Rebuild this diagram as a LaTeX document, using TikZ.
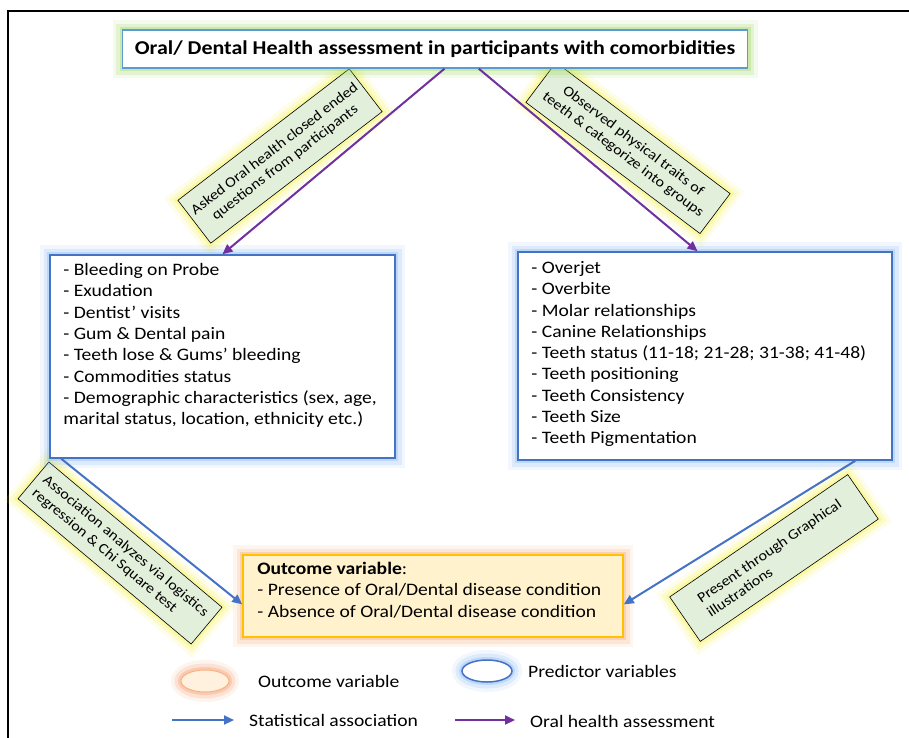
\documentclass[tikz,border=0pt]{standalone}
\usepackage{fontspec}
\setmainfont{Carlito}[FakeStretch=1.12]
\usetikzlibrary{arrows.meta,calc,positioning,shapes.geometric}

\definecolor{boxblue}{RGB}{68,114,196}
\definecolor{titleblue}{RGB}{91,155,213}
\definecolor{glowblue}{RGB}{120,175,240}
\definecolor{glowgreen}{RGB}{146,208,80}
\definecolor{glowyellow}{RGB}{245,240,60}
\definecolor{gloworange}{RGB}{244,160,100}
\definecolor{notegreen}{RGB}{226,239,218}
\definecolor{outfill}{RGB}{255,242,204}
\definecolor{outborder}{RGB}{255,192,0}
\definecolor{assocblue}{RGB}{68,114,196}
\definecolor{assesspurple}{RGB}{112,48,160}

\tikzset{
  glow/.style={preaction={draw=#1,line width=20pt,opacity=0.10},
               preaction={draw=#1,line width=13pt,opacity=0.18},
               preaction={draw=#1,line width=6pt,opacity=0.30}},
  titlebox/.style={draw=titleblue,line width=1.5pt,fill=white,inner sep=0pt,glow=glowgreen},
  predbox/.style={draw=boxblue,line width=1.6pt,fill=white,inner sep=0pt,glow=glowblue},
  outbox/.style={draw=outborder,line width=1.6pt,fill=outfill,inner sep=0pt,glow=gloworange},
  stepnote/.style={draw=black,line width=0.6pt,fill=notegreen,inner sep=0pt,glow=glowyellow,
                   font=\fontsize{14.4}{17}\selectfont},
  boxtext/.style={anchor=north west,inner sep=0pt,align=left,font=\fontsize{17.5}{21.3}\selectfont},
  legtext/.style={anchor=west,inner sep=0pt,font=\fontsize{17.5}{20}\selectfont},
  assoc/.style={draw=assocblue,line width=2pt,-{Triangle[length=10pt,width=9pt]}},
  assess/.style={draw=assesspurple,line width=2pt,-{Triangle[length=10pt,width=9pt]}},
}

\begin{document}
\begin{tikzpicture}[x=1pt,y=-1pt]
\def\fw{2.5} % frame line width
\useasboundingbox (0,0) rectangle (909,737);
\draw[line width=\fw pt] (8,745) |- (915,11); % outer frame

% notes on the connectors
\node[stepnote,minimum width=216pt,minimum height=54pt,rotate=37.5,align=center]
  (ask) at (280,156) {Asked Oral health closed ended\\questions from participants};
\node[stepnote,minimum width=218pt,minimum height=50pt,rotate=-37,align=center]
  (obs) at (628,148) {Observed physical traits of\\teeth \& categorize into groups};
\node[stepnote,minimum width=226pt,minimum height=48pt,rotate=-40,align=left]
  (ana) at (120,553) {Association analyzes via logistics\\regression \& Chi Square test};
\node[stepnote,minimum width=216pt,minimum height=54pt,rotate=34.5,align=left]
  (pre) at (774,558) {Present through Graphical\\illustrations};

% main boxes
\node[titlebox,minimum width=625pt,minimum height=38pt,font=\bfseries\fontsize{19.6}{22}\selectfont]
  (title) at (435,49) {Oral/ Dental Health assessment in participants with comorbidities};
\node[predbox,minimum width=345pt,minimum height=203pt] (pred1) at (222.5,356.5) {};
\node[predbox,minimum width=374pt,minimum height=208pt] (pred2) at (705,356) {};
\node[outbox,minimum width=380pt,minimum height=82pt] (outc) at (433,596) {};

\node[boxtext] (pred1txt) at ($(pred1.north west)+(14,9)$) {%
- Bleeding on Probe\\
- Exudation\\
- Dentist’ visits\\
- Gum \& Dental pain\\
- Teeth lose \& Gums’ bleeding\\
- Commodities status\\
- Demographic characteristics (sex, age,\\
marital status, location, ethnicity etc.)};
\node[boxtext] (pred2txt) at ($(pred2.north west)+(14,10)$) {%
- Overjet\\
- Overbite\\
- Molar relationships\\
- Canine Relationships\\
- Teeth status (11-18; 21-28; 31-38; 41-48)\\
- Teeth positioning\\
- Teeth Consistency\\
- Teeth Size\\
- Teeth Pigmentation};
\node[boxtext] (outctxt) at ($(outc.north west)+(15,8)$) {%
\textbf{Outcome variable}:\\
- Presence of Oral/Dental disease condition\\
- Absence of Oral/Dental disease condition};

% connectors
\draw[assess] ($(title.south west)!0.515!(title.south east)$) -- (pred1.north);
\draw[assess] ($(title.south west)!0.57!(title.south east)$) -- ($(pred2.north west)!0.48!(pred2.north east)$);
\draw[assoc] ($(pred1.south west)!0.035!(pred1.south east)$) -- ($(outc.south west)!0.4!(outc.north west)$);
\draw[assoc] ($(pred2.south west)!0.9!(pred2.south east)$) -- ($(outc.south east)!0.4!(outc.north east)$);

% legend
\node[ellipse,draw=gloworange!80,line width=1pt,fill=outfill!70!orange!30,glow=gloworange!90!red,
      minimum width=48pt,minimum height=22pt] (legout) at (205,681) {};
\node[legtext] (legouttxt) at (258,681) {Outcome variable};
\node[ellipse,draw=boxblue,line width=1.5pt,fill=white,glow=glowblue,
      minimum width=50pt,minimum height=22pt] (legpred) at (487,671) {};
\node[legtext] (legpredtxt) at (528,671) {Predictor variables};
\coordinate (sa1) at (172,720);
\coordinate (sa2) at (234,720);
\draw[assoc] (sa1) -- (sa2);
\node[legtext] (satxt) at (249,720) {Statistical association};
\coordinate (oa1) at (455,720);
\coordinate (oa2) at (515,720);
\draw[assess] (oa1) -- (oa2);
\node[legtext] (oatxt) at (530,721) {Oral health assessment};
\end{tikzpicture}
\end{document}
